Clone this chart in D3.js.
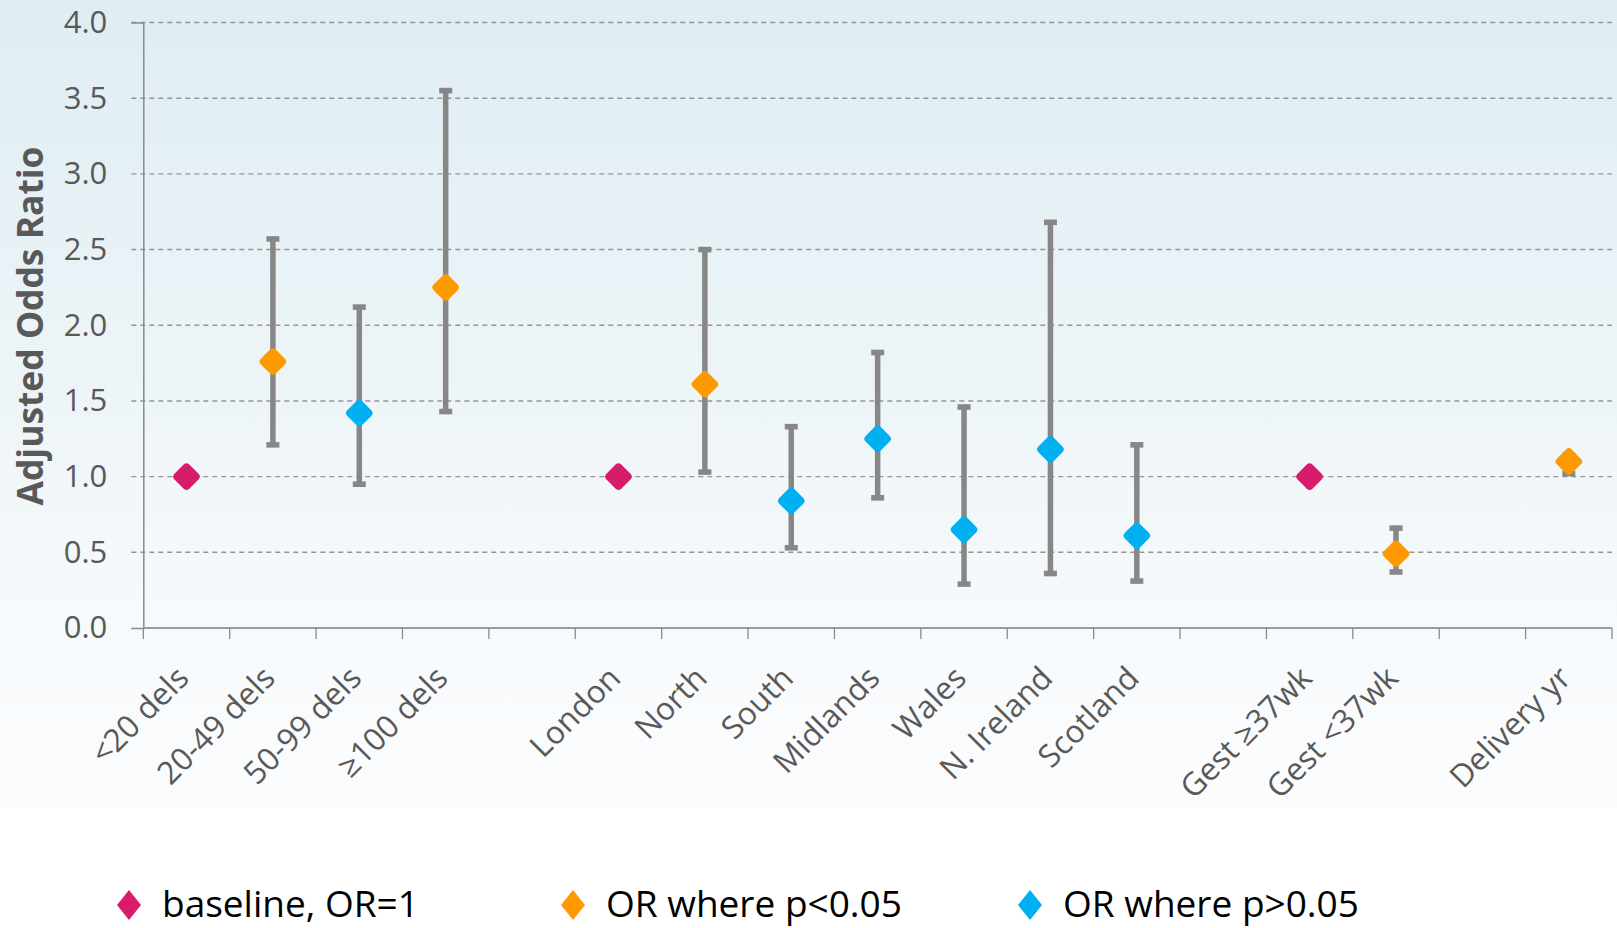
<!DOCTYPE html>
<html>
<head>
<meta charset="utf-8">
<script src="https://cdn.jsdelivr.net/npm/d3@7"></script>
<style>
    body { margin: 0; background: #ffffff; }
    #graph text { font-family: "Open Sans", "Noto Sans", sans-serif; }
</style>
</head>
<body>
<div id="graph"></div>
<script>
var categories = ["<20 dels", "20-49 dels", "50-99 dels", "\u2265100 dels", "",
    "London", "North", "South", "Midlands", "Wales", "N. Ireland", "Scotland", "",
    "Gest \u226537wk", "Gest <37wk", "", "Delivery yr"];
var oddsRatios = [1, 1.76, 1.42, 2.25, null, 1, 1.61, 0.84, 1.25, 0.65, 1.18, 0.61, null, 1, 0.49, null, 1.10];
var ciLower = [null, 1.21, 0.95, 1.43, null, null, 1.03, 0.53, 0.86, 0.29, 0.36, 0.31, null, null, 0.37, null, 1.02];
var ciUpper = [null, 2.57, 2.12, 3.55, null, null, 2.50, 1.33, 1.82, 1.46, 2.68, 1.21, null, null, 0.66, null, 1.14];
var pointGroup = ["base", "sig", "ns", "sig", null, "base", "sig", "ns", "ns", "ns", "ns", "ns", null,
    "base", "sig", null, "sig"];
var yTicks = [0, 0.5, 1, 1.5, 2, 2.5, 3, 3.5, 4];
var legendKeys = ["base", "sig", "ns"];
var legendLabels = ["baseline, OR=1", "OR where p<0.05", "OR where p>0.05"];

var groupColour = { base: "#d81b6b", sig: "#ff9900", ns: "#00b0f0" };

function drawChart() {
    var W = 1617, H = 928;
    var margin = {top: 22.5, left: 143.3, right: 5, bottom: 300};
    var width = W - margin.left - margin.right,
        height = H - margin.top - margin.bottom;

    var svg = d3.select("#graph").append("svg")
        .attr("width", W).attr("height", H);

    var grad = svg.append("defs").append("linearGradient")
        .attr("id", "bg").attr("x1", 0).attr("y1", 0).attr("x2", 0).attr("y2", 1);
    grad.append("stop").attr("offset", "0%").attr("stop-color", "#dfedf3");
    grad.append("stop").attr("offset", "50%").attr("stop-color", "#eef5f8");
    grad.append("stop").attr("offset", "80%").attr("stop-color", "#f7fafc");
    grad.append("stop").attr("offset", "100%").attr("stop-color", "#fbfcfe");
    svg.append("rect").attr("width", W).attr("height", 807).attr("fill", "url(#bg)");

    var g = svg.append("g")
        .attr("transform", "translate(" + margin.left + "," + margin.top + ")");

    var xScale = d3.scaleBand().domain(d3.range(categories.length)).range([0, width]);
    var yScale = d3.scaleLinear().domain([0, 4]).range([height, 0]);

    // dashed gridlines (they run out past the axis like ticks)
    g.selectAll(".grid").data(yTicks.slice(1)).enter().append("line")
        .attr("x1", -12).attr("x2", width)
        .attr("y1", function(d) { return yScale(d); })
        .attr("y2", function(d) { return yScale(d); })
        .attr("stroke", "#959595").attr("stroke-width", 1.4)
        .attr("stroke-dasharray", "5,4");

    var yAxis = d3.axisLeft(yScale).tickValues(yTicks).tickFormat(d3.format(".1f")).tickSize(12).tickPadding(24);
    var yg = g.append("g").call(yAxis);
    yg.select(".domain").attr("stroke", "#8a8a8a").attr("stroke-width", 1.5);
    yg.selectAll(".tick line").attr("stroke", function(d) { return d === 0 ? "#8a8a8a" : "none"; });
    yg.selectAll("text").attr("font-size", "31px").attr("fill", "#595959");

    // x axis: ticks on band boundaries
    var bounds = d3.range(categories.length + 1).map(function(i) { return i * xScale.bandwidth(); });
    var xg = g.append("g").attr("transform", "translate(0," + height + ")");
    xg.append("line").attr("x1", 0).attr("x2", width)
        .attr("stroke", "#9a9a9a").attr("stroke-width", 2);
    xg.selectAll(".xtick").data(bounds).enter().append("line")
        .attr("x1", function(d) { return d; }).attr("x2", function(d) { return d; })
        .attr("y1", 0).attr("y2", 11)
        .attr("stroke", "#8a8a8a").attr("stroke-width", 1.3);
    xg.selectAll(".xlabel").data(categories).enter().append("text")
        .attr("transform", function(d, i) {
            return "translate(" + (xScale(i) + xScale.bandwidth() / 2 + 4) + ",52) rotate(-45)";
        })
        .attr("text-anchor", "end")
        .attr("font-size", "31.5px")
        .attr("fill", "#595959")
        .text(function(d) { return d; });

    // y axis title
    svg.append("text")
        .attr("transform", "translate(43,326) rotate(-90)")
        .attr("text-anchor", "middle")
        .attr("font-size", "35px").attr("font-weight", "bold")
        .attr("fill", "#595959")
        .attr("textLength", 359).attr("lengthAdjust", "spacingAndGlyphs")
        .text("Adjusted Odds Ratio");

    // error bars
    var idx = d3.range(categories.length).filter(function(i) { return ciLower[i] !== null; });
    var cx = function(i) { return xScale(i) + xScale.bandwidth() / 2; };
    g.selectAll(".err").data(idx).enter().append("line")
        .attr("x1", cx).attr("x2", cx)
        .attr("y1", function(i) { return yScale(ciLower[i]); })
        .attr("y2", function(i) { return yScale(ciUpper[i]); })
        .attr("stroke", "#878787").attr("stroke-width", 5.5);
    [ciLower, ciUpper].forEach(function(arr) {
        g.selectAll(null).data(idx).enter().append("rect")
            .attr("x", function(i) { return cx(i) - 6.5; })
            .attr("y", function(i) { return yScale(arr[i]) - 2.8; })
            .attr("width", 13).attr("height", 5.6)
            .attr("fill", "#878787");
    });

    // diamond markers
    var pts = d3.range(categories.length).filter(function(i) { return oddsRatios[i] !== null; });
    g.selectAll(".pt").data(pts).enter().append("rect")
        .attr("x", -10.5).attr("y", -10.5).attr("width", 21).attr("height", 21)
        .attr("rx", 4).attr("ry", 4)
        .attr("transform", function(i) {
            return "translate(" + cx(i) + "," + yScale(oddsRatios[i]) + ") rotate(45)";
        })
        .attr("fill", function(i) { return groupColour[pointGroup[i]]; });

    drawLegend(svg);
}

function drawLegend(svg) {
    var itemX = [129, 573, 1030];
    var lg = svg.append("g").attr("transform", "translate(0,905)");
    legendKeys.forEach(function(k, i) {
        lg.append("path")
            .attr("d", "M" + itemX[i] + ",-15 L" + (itemX[i] + 12) + ",0 L" + itemX[i] + ",15 L" + (itemX[i] - 12) + ",0 Z")
            .attr("fill", groupColour[k]);
        lg.append("text")
            .attr("x", itemX[i] + 33).attr("y", 12)
            .attr("font-size", "37px").attr("fill", "#000000")
            .text(legendLabels[i]);
    });
}

drawChart();
</script>
</body>
</html>
